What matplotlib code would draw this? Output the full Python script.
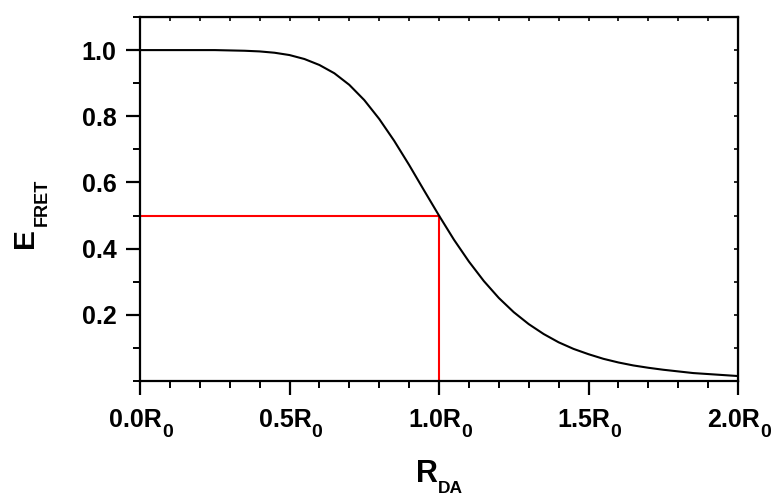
import matplotlib
matplotlib.use("Agg")
import matplotlib.pyplot as plt
from matplotlib.ticker import MultipleLocator

plt.rcParams['font.family'] = ['Liberation Sans', 'DejaVu Sans']
plt.rcParams['font.weight'] = 'bold'

# Donor-acceptor distance in units of R0, and transfer efficiency
r_da = [0.00, 0.05, 0.10, 0.15, 0.20, 0.25, 0.30, 0.35, 0.40, 0.45,
        0.50, 0.55, 0.60, 0.65, 0.70, 0.75, 0.80, 0.85, 0.90, 0.95,
        1.00, 1.05, 1.10, 1.15, 1.20, 1.25, 1.30, 1.35, 1.40, 1.45,
        1.50, 1.55, 1.60, 1.65, 1.70, 1.75, 1.80, 1.85, 1.90, 1.95, 2.00]
e_fret = [1.000, 1.000, 1.000, 1.000, 1.000, 1.000, 0.999, 0.998, 0.996, 0.992,
          0.985, 0.973, 0.955, 0.930, 0.895, 0.849, 0.792, 0.726, 0.653, 0.576,
          0.500, 0.427, 0.361, 0.302, 0.251, 0.208, 0.172, 0.142, 0.117, 0.097,
          0.081, 0.067, 0.056, 0.047, 0.040, 0.034, 0.029, 0.024, 0.021, 0.018, 0.015]

# Half-efficiency marker at R = R0
r_half = 1.0
e_half = 0.5

x_ticks = [0.0, 0.5, 1.0, 1.5, 2.0]
x_tick_main = ['0.0R', '0.5R', '1.0R', '1.5R', '2.0R']
x_tick_sub = '0'
y_ticks = [0.2, 0.4, 0.6, 0.8, 1.0]
y_tick_labels = ['0.2', '0.4', '0.6', '0.8', '1.0']

W, H = 773, 496
fig = plt.figure(figsize=(W / 100, H / 100), dpi=100)
ax = fig.add_axes([140 / W, 1 - 381 / H, 598 / W, 364 / H])

ax.plot(r_da, e_fret, color='black', lw=1.5, zorder=3)
ax.plot([0, r_half], [e_half, e_half], color='red', lw=1.5, zorder=2)
ax.plot([r_half, r_half], [0, e_half], color='red', lw=1.5, zorder=2)

ax.set_xlim(0, 2.0)
ax.set_ylim(0, 1.1)

ax.set_xticks(x_ticks)
ax.set_xticklabels([])
ax.set_yticks(y_ticks)
ax.set_yticklabels(y_tick_labels)
ax.xaxis.set_minor_locator(MultipleLocator(0.1))
ax.yaxis.set_minor_locator(MultipleLocator(0.1))

for s in ax.spines.values():
    s.set_linewidth(1.6)

ax.tick_params(which='major', direction='out', length=10, width=1.6,
               labelsize=18, pad=7)
ax.tick_params(which='minor', direction='out', length=5, width=1.4)

# x tick labels with a lowered subscript, placed at each tick position
sub_font = ['Liberation Sans Narrow', 'Liberation Sans']
for xv, main in zip(x_ticks, x_tick_main):
    ax.annotate(main, xy=(xv, 0), xycoords=('data', 'axes fraction'),
                xytext=(15.8, -33.0), textcoords='offset points',
                ha='right', va='baseline', fontsize=18, fontweight='bold',
                annotation_clip=False)
    ax.annotate(x_tick_sub, xy=(xv, 0), xycoords=('data', 'axes fraction'),
                xytext=(16.0, -40.3), textcoords='offset points',
                ha='left', va='baseline', fontsize=14, fontweight='bold',
                family=sub_font, annotation_clip=False)

# Small inward ticks on the top and right frame edges
top = ax.secondary_xaxis('top')
top.xaxis.set_major_locator(MultipleLocator(0.1))
top.tick_params(direction='in', length=3, width=1.2, labeltop=False)
top.set_xticklabels([])
right = ax.secondary_yaxis('right')
right.yaxis.set_major_locator(MultipleLocator(0.1))
right.tick_params(direction='in', length=3, width=1.2, labelright=False)
right.set_yticklabels([])

# Axis titles with subscripts set below the baseline
def px(x, y):
    return x / W, 1 - y / H

fig.text(*px(33, 248), 'E', rotation=90, rotation_mode='anchor',
         ha='left', va='baseline', fontsize=21.5, fontweight='bold')
fig.text(*px(46.5, 226), 'FRET', rotation=90, rotation_mode='anchor',
         ha='left', va='baseline', fontsize=13, fontweight='bold')
fig.text(*px(416, 482), 'R', ha='left', va='baseline',
         fontsize=22, fontweight='bold')
fig.text(*px(438, 493), 'DA', ha='left', va='baseline',
         fontsize=12.5, fontweight='bold')

fig.savefig('out.png', dpi=100)
